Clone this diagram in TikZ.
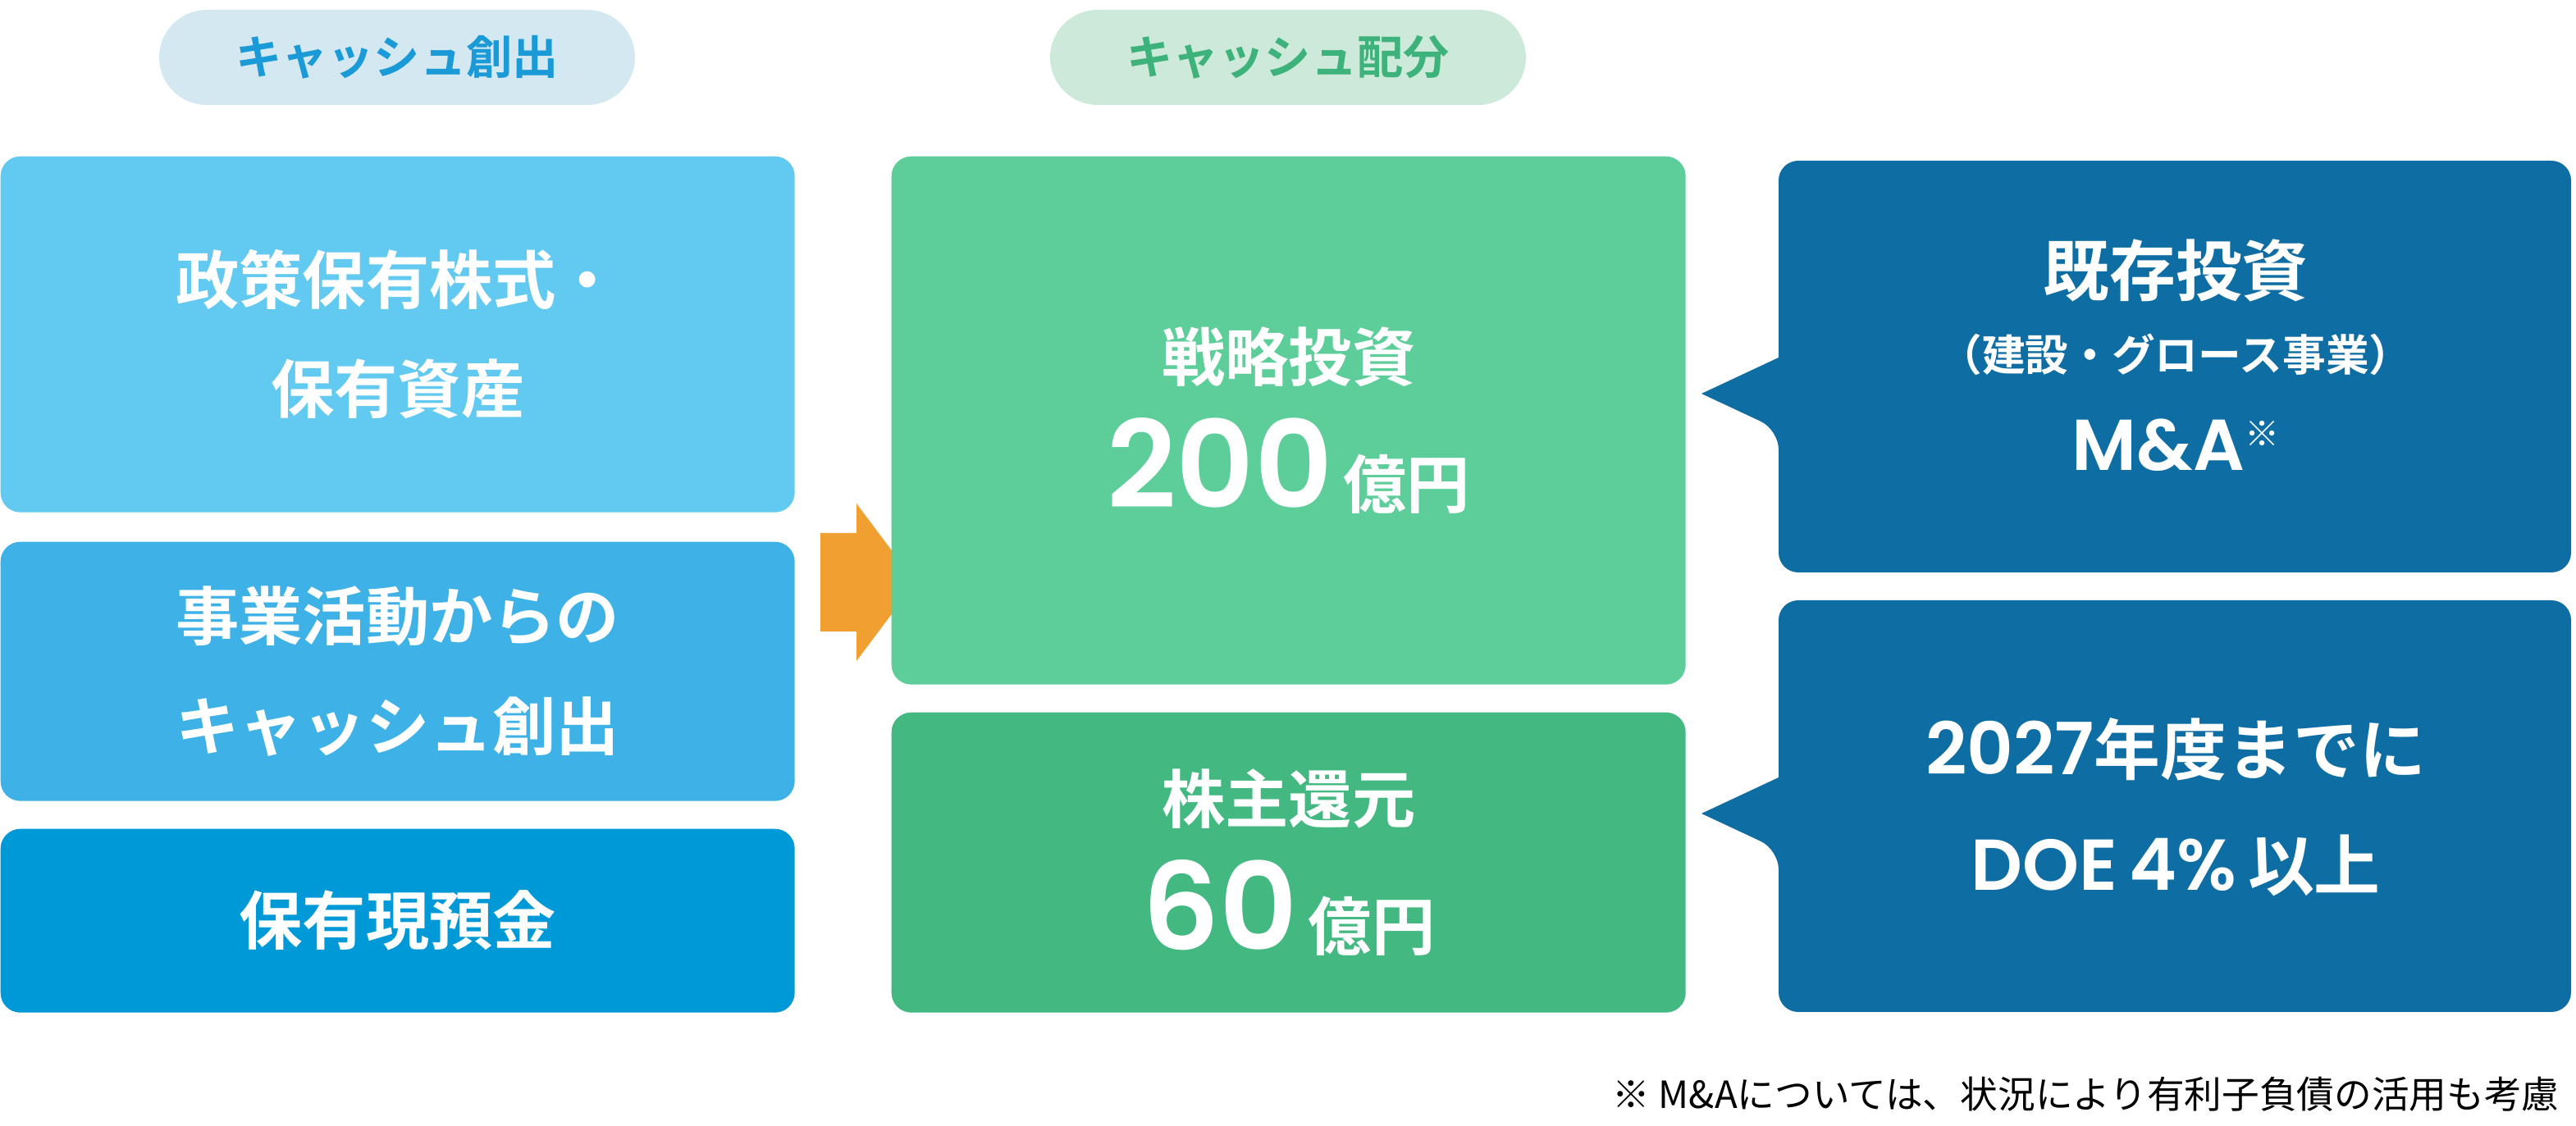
\documentclass[tikz,border=0pt]{standalone}
\usepackage{fontspec}
\setmainfont{Noto Sans CJK JP}[BoldFont={* Bold}]
\newfontfamily\numfont{Poppins}[UprightFont={* SemiBold}]
\newfontfamily\jpfont{Noto Sans CJK JP Bold}
\usetikzlibrary{positioning}
\definecolor{pillblue}{HTML}{D4E8F1}
\definecolor{pilltxtblue}{HTML}{1A9AD6}
\definecolor{pillgreen}{HTML}{CDE9DA}
\definecolor{pilltxtgreen}{HTML}{3DB27A}
\definecolor{srcA}{HTML}{62C9F1}
\definecolor{srcB}{HTML}{3EB2E7}
\definecolor{srcC}{HTML}{0099D7}
\definecolor{useA}{HTML}{5DCE9A}
\definecolor{useB}{HTML}{43B881}
\definecolor{noteblue}{HTML}{0E6DA3}
\definecolor{arroworange}{HTML}{F0A030}
\tikzset{
  pill/.style={rounded corners=0.58cm, minimum width=290*0.02cm, minimum height=58*0.02cm,
    font=\jpfont\fontsize{16}{18}\selectfont},
  box/.style={rounded corners=0.24cm, text=white, align=center, anchor=north west,
    font=\jpfont\fontsize{22}{38}\selectfont},
}
\begin{document}
\begin{tikzpicture}[x=0.02cm,y=-0.02cm]
\useasboundingbox (0,0) rectangle (1570,686.5);
% headers
\node[pill, fill=pillblue, text=pilltxtblue] (hsrc) at (242,35) {キャッシュ創出};
\node[pill, fill=pillgreen, text=pilltxtgreen] (huse) at (785,35) {キャッシュ配分};
% sources
\node[box, fill=srcA, minimum width=484*0.02cm, minimum height=217*0.02cm] (src1) at (0,95) {政策保有株式・\\保有資産};
\node[box, fill=srcB, minimum width=484*0.02cm, minimum height=158*0.02cm] (src2) at (0,330) {事業活動からの\\キャッシュ創出};
\node[box, fill=srcC, minimum width=484*0.02cm, minimum height=112*0.02cm] (src3) at (0,505) {保有現預金};
% arrow
\fill[arroworange] (500,325) -- (522,325) -- (522,307) -- (558,355) -- (522,403) -- (522,385) -- (500,385) -- cycle;
% uses
\node[box, fill=useA, minimum width=484*0.02cm, minimum height=322*0.02cm] (use1) at (543,95)
  {戦略投資\\[6pt]{\numfont\fontsize{42}{44}\selectfont 200}\,億円};
\node[box, fill=useB, minimum width=484*0.02cm, minimum height=183*0.02cm] (use2) at (543,434)
  {株主還元\\[6pt]{\numfont\fontsize{42}{44}\selectfont 60}\,億円};
% callouts
\fill[noteblue, rounded corners=0.24cm] (1084,98) -- (1567,98) -- (1567,349) -- (1084,349) -- (1084,262) [sharp corners] -- (1037,240) -- (1084,218) [rounded corners=0.24cm] -- cycle;
\fill[noteblue, rounded corners=0.24cm] (1084,366) -- (1567,366) -- (1567,617) -- (1084,617) -- (1084,518) [sharp corners] -- (1037,496) -- (1084,474) [rounded corners=0.24cm] -- cycle;
\node[text=white, font=\jpfont\fontsize{23}{26}\selectfont] (inv) at (1326,165) {既存投資};
\node[text=white, font=\jpfont\fontsize{15}{18}\selectfont, below=4pt of inv] (inv2) {（建設・グロース事業）};
\node[text=white, font=\numfont\fontsize{25}{28}\selectfont, below=8pt of inv2] (ma) {M\&A\raisebox{0.6ex}{\jpfont\fontsize{12}{12}\selectfont ※}};
\node[text=white, align=center, font=\jpfont\fontsize{23}{40}\selectfont] (doe) at (1326,492)
  {{\numfont\fontsize{25}{28}\selectfont 2027}年度までに\\{\numfont\fontsize{25}{28}\selectfont DOE\,4\%}\,以上};
% footnote
\node[anchor=east, font=\fontsize{13}{15}\selectfont] (fn) at (1566,667) {※\ M\&Aについては、状況により有利子負債の活用も考慮};
\end{tikzpicture}
\end{document}
